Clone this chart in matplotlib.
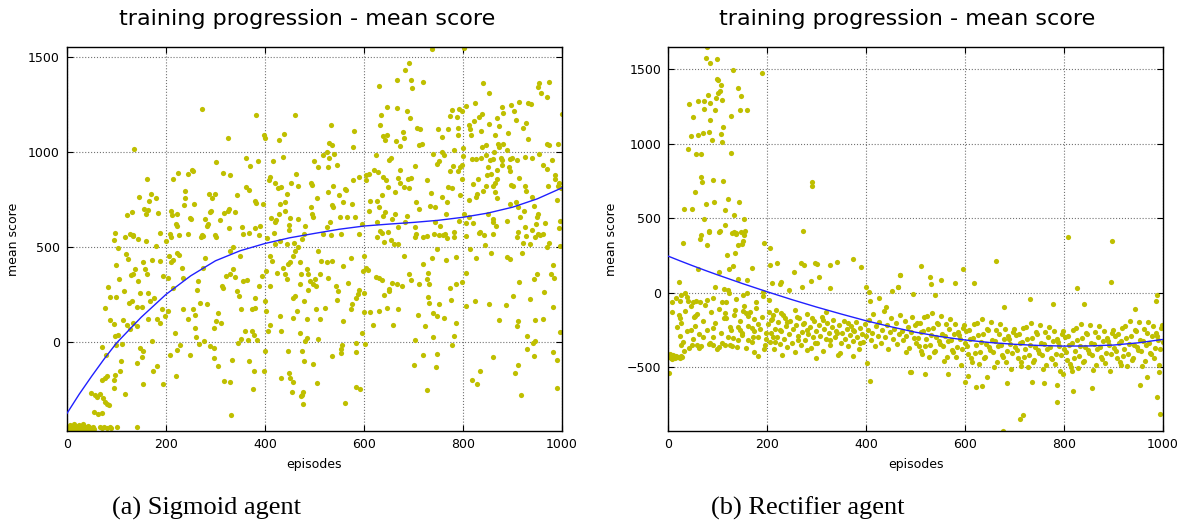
import matplotlib
matplotlib.use("Agg")
import matplotlib.pyplot as plt

# ---------------- data ----------------
sigmoid_points = [
    # bottom cluster, early episodes
    (2,-455),(5,-445),(8,-460),(10,-450),(12,-440),(14,-458),(17,-447),(19,-462),(21,-452),(23,-443),
    (26,-457),(28,-448),(30,-463),(32,-441),(34,-452),(36,-459),(38,-446),(40,-455),(43,-462),(45,-444),
    (47,-452),(50,-460),(52,-448),(55,-456),(3,-462),(7,-436),(15,-430),(25,-436),(33,-432),(42,-438),
    (67,-448),(70,-450),(75,-448),(81,-449),(86,-448),(88,-451),(101,-448),(141,-448),
    # upper part, episodes 0-510
    (135,1016),(273,1228),(382,1196),(461,1196),(325,1074),(398,1090),(400,1074),(438,1095),(428,1063),(362,968),
    (386,952),(370,926),(301,947),(416,952),(436,973),(499,952),(507,921),(252,905),(254,899),(225,889),
    (245,884),(214,857),(162,862),(315,889),(329,878),(463,884),(408,852),(411,868),(420,836),(426,810),
    (432,815),(445,783),(453,836),(466,820),(492,836),(494,829),(505,762),(362,815),(367,804),(343,773),
    (287,783),(299,778),(239,794),(238,757),(146,767),(170,783),(179,762),(166,746),(156,704),(163,698),
    (160,677),(121,672),(131,688),(184,682),(210,693),(222,677),(213,672),(257,730),(236,720),(293,757),
    (291,693),(289,684),(317,682),(327,704),(326,693),(339,688),(380,746),(382,735),(396,730),(430,730),
    (440,741),(428,677),(440,693),(420,635),(423,645),(412,656),(466,651),(451,656),(493,714),(495,677),
    (497,661),(481,614),(448,619),(418,577),(390,614),(380,603),(368,577),(388,566),(353,608),(327,603),
    (309,645),(278,651),(285,624),(283,612),(248,656),(251,650),(220,624),(223,612),(244,571),(226,566),
    (208,571),(188,577),(127,571),(133,566),(134,560),(118,555),(97,577),(143,545),(273,566),(275,560),
    (271,555),(300,566),(302,555),(355,571),(404,550),(449,592),(479,571),
    # lower part, episodes 0-510
    (48,-268),(60,-289),(67,-273),(73,-295),(80,-326),(85,-330),(55,-365),(62,-377),(70,-374),(77,-312),
    (57,-277),(70,-198),(77,-189),(80,-180),(94,-198),(97,-171),(94,-242),(117,-273),(109,-100),(108,-153),
    (70,-26),(79,-65),(100,-12),(104,40),(97,32),(112,-9),(87,115),(94,97),(76,178),(82,291),
    (86,238),(100,238),(100,407),(104,496),(95,538),(106,332),(115,270),(114,115),(122,93),(127,70),
    (125,208),(131,217),(119,464),(123,437),(129,354),(134,358),(137,385),(144,323),(147,261),(142,185),
    (151,185),(134,102),(141,88),(147,-30),(153,-44),(151,-79),(141,-109),(154,-220),(181,-127),(174,-153),
    (193,-220),(220,-175),(208,-65),(222,-39),(228,-12),(248,-65),(171,9),(164,125),(168,217),(176,234),
    (181,125),(188,102),(192,173),(198,138),(158,385),(161,358),(154,420),(159,531),(180,508),(188,429),
    (193,349),(172,432),(164,261),(201,534),(210,552),(207,455),(211,420),(215,432),(222,472),(227,460),
    (232,393),(234,340),(205,340),(215,287),(205,164),(218,49),(234,173),(245,120),(255,176),(259,146),
    (262,273),(265,323),(269,208),(275,393),(279,446),(282,199),(259,76),(261,26),(267,-9),(277,5),
    (289,-21),(297,-28),(297,-83),(306,-127),(317,-206),(329,-210),(333,-92),(331,-383),(296,76),(301,111),
    (306,155),(311,102),(313,296),(316,284),(321,349),(329,358),(336,385),(339,344),(344,270),(348,243),
    (351,173),(356,323),(363,326),(350,455),(329,481),(336,499),(346,-4),(351,19),(360,62),(373,58),
    (378,40),(383,14),(366,14),(368,-97),(376,-247),(378,-150),(397,-150),(400,-48),(407,58),(410,93),
    (401,217),(403,164),(410,296),(403,376),(414,429),(393,349),(387,296),(380,234),(373,173),(380,180),
    (424,367),(430,138),(432,62),(447,-48),(451,-189),(454,-259),(474,-277),(476,-326),(474,-48),(478,-97),
    (481,5),(484,23),(496,-114),(506,-215),(508,19),(457,129),(465,164),(471,49),(479,217),(484,120),
    (491,323),(497,305),(501,332),(484,385),(487,358),(444,332),(440,358),(447,411),(456,455),(461,481),
    (467,499),(471,420),(451,420),(437,393),(411,455),(420,517),(430,534),(444,517),(458,522),(474,543),
    (508,481),(461,243),(457,234),(473,358),(471,305),(504,176),(456,-210),(472,-282),(477,-259),(432,-189),
    (449,-162),(487,273),(503,296),
    # upper part, episodes 510-1000
    (738,1545),(802,1550),(691,1469),(683,1432),(694,1381),(696,1340),(666,1381),(720,1369),(631,1351),(841,1363),
    (853,1310),(954,1363),(951,1342),(974,1369),(969,1293),(958,1310),(533,1143),(580,1111),(577,1028),(529,1049),
    (536,1040),(525,1002),(530,972),(539,989),(517,984),(527,923),(546,931),(647,1240),(666,1231),(686,1217),
    (634,1194),(632,1143),(693,1178),(638,1085),(643,1063),(647,1090),(678,1107),(681,1076),(665,1058),(673,1032),
    (708,1130),(714,1120),(712,1037),(718,1045),(749,1122),(770,1125),(758,1081),(778,1225),(791,1228),(797,1219),
    (773,1190),(787,1187),(789,1130),(790,1090),(806,1243),(824,1257),(812,1143),(814,1125),(822,1164),(833,1187),
    (839,1204),(836,1111),(853,1148),(868,1183),(879,1240),(880,1208),(897,1249),(914,1266),(902,1217),(907,1172),
    (932,1257),(937,1252),(928,1156),(922,1127),(932,1072),(970,1045),(974,1040),(991,1042),(999,1201),(873,1138),
    (890,1103),(865,1093),(816,1093),(839,1028),(847,1037),(871,1045),(873,1028),(880,1042),(863,1002),(888,1011),
    (799,1022),(799,978),(781,1011),(757,1002),(740,993),(762,985),(752,954),(748,940),(780,926),(793,923),
    (797,933),(789,899),(773,899),(818,966),(826,963),(836,970),(846,984),(855,961),(860,966),(877,972),
    (879,961),(895,966),(899,972),(925,975),(940,972),(954,993),(962,931),(969,913),(979,958),(986,878),
    (985,857),(972,822),(991,820),(994,836),(998,810),(910,961),(892,923),(894,899),(878,934),(869,905),
    (851,923),(849,878),(856,884),(868,860),(865,841),(861,822),(846,822),(831,857),(821,831),(826,767),
    (828,778),(812,749),(841,796),(865,790),(869,762),(897,826),(901,820),(913,864),(925,822),(928,796),
    (940,765),(895,728),(907,741),(912,712),(924,693),(943,717),(949,659),(952,677),(966,626),(989,749),
    (995,637),(993,603),(535,720),(538,712),(538,825),(550,776),(557,741),(562,808),(563,800),(575,728),
    (577,855),(589,869),(566,657),(582,657),(590,570),(595,623),(551,657),(531,631),(525,605),(517,570),
    (533,564),(553,570),(527,790),(605,878),(611,886),(621,905),(624,984),(605,852),(613,746),(611,689),
    (629,896),(626,746),(630,712),(639,869),(644,852),(649,816),(636,773),(643,684),(650,958),(654,970),
    (663,790),(668,864),(673,905),(673,836),(680,816),(688,860),(694,864),(690,810),(703,926),(705,737),
    (711,702),(686,667),(656,649),(663,675),(639,667),(626,631),(632,587),(649,578),(669,605),(683,631),
    (703,605),(705,570),(727,557),(743,631),(753,614),(765,675),(727,855),(735,784),(733,716),(743,714),
    (758,767),(767,737),(769,816),(777,811),(797,860),(794,776),(791,640),(801,675),(806,626),(812,657),
    (821,626),(834,578),(850,675),(861,649),(860,631),(867,614),(888,640),(915,657),(925,605),(912,578),
    (939,590),(948,623),(952,570),(781,578),(763,570),(752,564),(807,557),(861,570),
    # lower part, episodes 510-1000
    (626,552),(661,517),(668,517),(637,575),(640,528),(654,540),(703,552),(720,552),(741,570),(760,566),
    (767,549),(782,556),(833,573),(843,566),(844,513),(814,490),(826,446),(857,472),(888,449),(894,437),
    (910,552),(921,525),(928,560),(935,517),(945,552),(955,566),(962,572),(969,502),(974,520),(996,508),
    (920,470),(982,405),(949,361),(977,358),(983,338),(964,266),(943,332),(935,229),(913,319),(900,243),
    (886,196),(873,115),(911,111),(910,85),(946,115),(961,120),(981,185),(995,55),(853,199),(825,217),
    (807,190),(797,319),(786,305),(774,287),(775,220),(785,102),(781,35),(777,-12),(807,367),(786,449),
    (766,432),(748,490),(737,446),(720,411),(730,367),(728,332),(732,305),(711,305),(690,361),(681,455),
    (667,305),(657,314),(651,270),(641,247),(630,164),(619,93),(636,326),(631,340),(624,345),(605,393),
    (608,381),(601,455),(598,375),(599,261),(588,252),(589,273),(583,234),(576,203),(573,176),(601,159),
    (595,49),(602,-7),(583,-4),(584,-53),(584,-233),(592,-245),(562,-321),(556,-12),(553,-35),(554,-58),
    (536,-70),(558,111),(548,270),(545,220),(544,296),(568,314),(573,446),(558,402),(535,429),(525,420),
    (528,340),(513,429),(511,358),(521,178),(511,120),(613,159),(646,182),(651,279),(659,93),(669,173),
    (676,296),(695,326),(703,14),(700,-122),(710,146),(723,85),(720,-65),(727,-249),(739,26),(747,-62),
    (746,-131),(730,238),(732,208),(740,155),(747,138),(752,199),(762,129),(818,-198),(829,-220),(834,-153),
    (860,-79),(912,-118),(906,-159),(917,-277),(930,35),(929,-35),(941,-4),(944,-70),(945,5),(982,-53),
    (989,-92),(989,-242),
]

rectifier_points = [
    # early high-score burst
    (79,1647),(76,1573),(98,1568),(85,1539),(131,1494),(190,1476),(98,1434),(100,1425),(106,1396),(105,1356),
    (100,1338),(96,1305),(108,1293),(80,1327),(61,1287),(73,1287),(85,1271),(43,1266),(73,1235),(95,1224),
    (50,1181),(85,1159),(127,1186),(145,1224),(159,1228),(141,1374),(147,1320),(112,1114),(82,1079),(71,1070),
    (60,1059),(46,1052),(89,1025),(106,1067),(109,1009),(41,964),(56,929),(67,929),(127,940),(67,774),
    (69,745),(90,756),(112,752),(54,676),(290,745),(290,718),(121,627),(144,611),(92,611),(77,595),
    (32,564),(48,564),(115,553),(133,522),(72,495),(153,495),(115,457),(82,414),(102,407),(134,407),
    (137,398),(138,394),(155,414),(153,387),(67,387),(272,414),
    # middle scores, early episodes
    (31,336),(64,358),(78,320),(119,253),(135,264),(142,320),(149,325),(152,347),(193,336),(206,298),
    (22,74),(61,157),(103,141),(124,157),(132,179),(121,18),(113,23),(95,40),(123,-4),(142,90),
    (159,85),(170,164),(206,186),(221,197),(191,7),(203,-49),(209,67),(226,56),(229,72),(244,18),
    (255,141),(269,201),(275,183),(270,40),(288,81),(297,201),(301,195),(304,107),(327,186),(341,208),
    (327,30),(373,224),(389,170),(400,36),(405,7),(407,-54),(426,-33),(452,13),(469,119),(464,40),
    (494,-11),(83,410),(104,415),(130,402),(147,405),
    # cluster at start
    (1,-430),(3,-420),(5,-440),(7,-425),(9,-435),(11,-420),(13,-430),(15,-438),(17,-424),(19,-432),
    (21,-428),(24,-436),(27,-422),(29,-430),(2,-537),(4,-410),(8,-445),
    # band, episodes 0-500
    (7,-60),(9,-128),(24,-172),(19,-228),(24,-291),(27,-351),(32,-389),(48,-351),(59,-351),(62,-374),
    (71,-299),(85,-336),(91,-351),(102,-367),(115,-351),(125,-351),(140,-362),(149,-284),(146,-250),(162,-318),
    (172,-295),(169,-239),(182,-210),(174,-179),(174,-396),(182,-425),(195,-351),(198,-313),(207,-183),(204,-128),
    (213,-150),(219,-116),(228,-134),(236,-168),(213,-295),(216,-329),(231,-418),(226,-250),(240,-195),(257,-116),
    (260,-165),(263,-318),(273,-212),(280,-250),(281,-385),(299,-440),(296,-340),(290,-172),(314,-183),(320,-128),
    (327,-318),(341,-272),(347,-407),(364,-206),(374,-250),(388,-340),(401,-474),(408,-593),(374,-425),(441,-94),
    (481,-396),(489,-530),
    (16,-38),(24,-55),(27,-15),(34,-4),(38,-27),(40,-56),(51,-60),(57,-54),(64,-60),(55,-156),
    (52,-165),(47,-250),(78,-49),(91,-38),(90,-239),(108,-60),(115,-138),(118,-172),(128,-250),(132,-306),
    (142,-228),(135,-116),(151,-15),(159,-4),(152,-125),(157,-134),(162,-156),(178,-60),(191,-20),
    (22,-150),(26,-200),(30,-330),(34,-120),(38,-260),(42,-370),(46,-90),(50,-310),(54,-220),(58,-140),
    (62,-280),(66,-360),(70,-190),(74,-80),(78,-250),(82,-345),(86,-130),(90,-300),(94,-200),(98,-380),
    (102,-110),(106,-270),(110,-340),(114,-170),(118,-60),(122,-300),(126,-230),(130,-355),(134,-150),(138,-40),
    (142,-320),(146,-190),(150,-270),(154,-90),(158,-370),(162,-220),(166,-130),(170,-330),(174,-260),(178,-100),
    (182,-300),(186,-240),(190,-160),(194,-380),(198,-270),
    (202,-210),(205,-330),(208,-270),(211,-175),(214,-380),(217,-240),(220,-300),(223,-195),(226,-345),(229,-260),
    (232,-150),(235,-310),(238,-225),(241,-365),(244,-280),(247,-190),(250,-335),(253,-245),(256,-400),(259,-215),
    (262,-290),(265,-170),(268,-350),(271,-265),(274,-205),(277,-320),(280,-145),(283,-275),(286,-230),(289,-370),
    (292,-300),(295,-190),(298,-255),(301,-335),(304,-215),(307,-290),(310,-160),(313,-390),(316,-245),(319,-310),
    (322,-200),(325,-270),(328,-350),(331,-230),(334,-180),(337,-300),(340,-255),(343,-420),(346,-215),(349,-335),
    (352,-270),(355,-190),(358,-310),(361,-240),(364,-360),(367,-285),(370,-220),(373,-325),(376,-260),(379,-195),
    (382,-300),(385,-380),(388,-235),(391,-275),(394,-330),(397,-210),(400,-290),
    (403,-250),(406,-180),(409,-320),(412,-270),(415,-140),(418,-360),(421,-225),(424,-290),(427,-195),(430,-335),
    (433,-250),(436,-120),(439,-300),(442,-215),(445,-380),(448,-265),(451,-170),(454,-310),(457,-240),(460,-200),
    (463,-345),(466,-280),(469,-150),(472,-255),(475,-320),(478,-190),(481,-290),(484,-230),(487,-370),(490,-265),
    (493,-160),(496,-305),(499,-215),(500,-340),
    # band, episodes 500-1000
    (502,-206),(506,-358),(510,-261),(514,-413),(518,-166),(522,-308),(526,-240),(530,-352),(534,-135),(538,-397),
    (542,-299),(546,-212),(550,-344),(554,-276),(558,-458),(562,-210),(566,-322),(570,-174),(574,-386),(578,-278),
    (582,-430),(586,-262),(590,-313),(594,-375),(598,-216),(602,-258),(606,-409),(610,-310),(614,-462),(618,-213),
    (622,-354),(626,-286),(630,-397),(634,-178),(638,-440),(642,-341),(646,-252),(650,-384),(654,-315),(658,-496),
    (662,-247),(666,-358),(670,-209),(674,-420),(678,-311),(682,-462),(686,-293),(690,-344),(694,-405),(698,-246),
    (702,-286),(706,-437),(710,-338),(714,-489),(718,-239),(722,-380),(726,-311),(730,-421),(734,-202),(738,-463),
    (742,-363),(746,-274),(750,-404),(754,-335),(758,-515),(762,-266),(766,-376),(770,-227),(774,-437),(778,-327),
    (782,-478),(786,-308),(790,-358),(794,-418),(798,-258),(802,-298),(806,-448),(810,-348),(814,-498),(818,-248),
    (822,-388),(826,-318),(830,-427),(834,-207),(838,-467),(842,-367),(846,-277),(850,-407),(854,-337),(858,-516),
    (862,-266),(866,-375),(870,-225),(874,-434),(878,-324),(882,-473),(886,-303),(890,-352),(894,-412),(898,-251),
    (902,-291),(906,-440),(910,-339),(914,-488),(918,-237),(922,-376),(926,-305),(930,-414),(934,-192),(938,-451),
    (942,-349),(946,-258),(950,-386),(954,-314),(958,-493),(962,-241),(966,-349),(970,-197),(974,-405),(978,-293),
    (982,-441),(986,-269),(990,-317),(994,-376),(998,-214),
    (504,-307),(508,-200),(512,-392),(516,-255),(520,-357),(524,-159),(528,-431),(532,-284),(536,-236),(540,-388),
    (544,-201),(548,-323),(552,-155),(556,-357),(560,-289),(564,-431),(568,-243),(572,-315),(576,-397),(580,-209),
    (584,-361),(588,-282),(592,-484),(596,-235),(600,-337),(604,-358),(608,-250),(612,-441),(616,-302),(620,-404),
    (624,-205),(628,-476),(632,-328),(636,-279),(640,-430),(644,-242),(648,-363),(652,-194),(656,-395),(660,-326),
    (664,-467),(668,-278),(672,-349),(676,-430),(680,-241),(684,-392),(688,-313),(692,-514),(696,-265),(700,-366),
    (704,-387),(708,-278),(712,-468),(716,-329),(720,-430),(724,-230),(728,-501),(732,-352),(736,-302),(740,-453),
    (744,-263),(748,-384),(752,-214),(756,-415),(760,-345),(764,-486),(768,-296),(772,-367),(776,-447),(780,-257),
    (784,-408),(788,-328),(792,-528),(796,-278),(800,-378),(804,-398),(808,-288),(812,-478),(816,-338),(820,-438),
    (824,-238),(828,-508),(832,-357),(836,-307),(840,-457),(844,-267),(848,-387),(852,-217),(856,-416),(860,-346),
    (864,-486),(868,-295),(872,-365),(876,-444),(880,-254),(884,-403),(888,-323),(892,-522),(896,-271),(900,-371),
    (904,-390),(908,-279),(912,-468),(916,-327),(920,-426),(924,-225),(928,-494),(932,-343),(936,-291),(940,-440),
    (944,-248),(948,-367),(952,-195),(956,-393),(960,-322),(964,-460),(968,-268),(972,-336),(976,-414),(980,-222),
    (984,-370),(988,-288),(992,-486),(996,-235),(1000,-333),
    # outliers, episodes 460-1000
    (808,372),(896,349),(894,74),(663,215),(512,181),(595,157),(469,119),(529,103),(531,56),(552,85),
    (580,67),(618,67),(465,36),(826,34),(539,-15),(987,-15),(985,-54),(731,-45),(778,-76),(679,-98),
    (840,-76),(943,-109),(987,-698),(994,-817),(710,-850),(718,-821),(676,-929),(786,-736),(818,-658),(856,-642),
    (954,-620),(622,-631),(634,-626),(605,-557),(600,-597),(644,-564),(490,-530),(519,-546),(566,-546),(685,-604),
    (735,-597),(759,-604),(785,-620),(797,-546),(817,-524),(967,-564),(991,-530),
]

# fitted trend lines
trend_episodes = [0, 25, 50, 75, 100, 150, 200, 250, 300, 350, 400, 450, 500,
                  550, 600, 650, 700, 750, 800, 850, 900, 950, 1000]
sigmoid_trend = [-374, -272, -178, -88, -4, 132, 252, 350, 429, 482, 520, 550, 573,
                 595, 612, 622, 631, 642, 658, 680, 711, 755, 813]
rectifier_trend = [246, 213, 181, 150, 120, 62, 7, -46, -96, -143, -188, -228, -265,
                   -294, -317, -334, -346, -354, -358, -357, -351, -336, -313]

panel_titles = ["training progression - mean score", "training progression - mean score"]
panel_captions = ["(a) Sigmoid agent", "(b) Rectifier agent"]
x_ticks = [0, 200, 400, 600, 800, 1000]
sigmoid_yticks = [0, 500, 1000, 1500]
rectifier_yticks = [-500, 0, 500, 1000, 1500]
sigmoid_ylim = (-467, 1554)
rectifier_ylim = (-928, 1649)

# ---------------- drawing ----------------
plt.rcParams['font.family'] = ['DejaVu Sans']

fig = plt.figure(figsize=(11.94, 5.25), dpi=100)
fig.patch.set_facecolor('white')

dot_color = '#bfbf00'
line_color = '#2020ff'

panels = [
    (0.0561, sigmoid_points, sigmoid_trend, sigmoid_ylim, sigmoid_yticks),
    (0.5595, rectifier_points, rectifier_trend, rectifier_ylim, rectifier_yticks),
]
caption_x = [0.0938, 0.5955]
title_x = [0.257, 0.760]

for i, (left, pts, trend, ylim, yticks) in enumerate(panels):
    ax = fig.add_axes([left, 0.179, 0.4146, 0.7314])
    xs = [p[0] for p in pts]
    ys = [p[1] for p in pts]
    ax.scatter(xs, ys, s=14, color=dot_color, linewidths=0, zorder=2)
    ax.plot(trend_episodes, trend, color=line_color, lw=1.0, zorder=3)
    ax.set_xlim(0, 1000)
    ax.set_ylim(*ylim)
    ax.set_xticks(x_ticks)
    ax.set_yticks(yticks)
    ax.grid(True, color='0.45', linestyle=':', linewidth=0.8, zorder=0)
    ax.set_axisbelow(True)
    ax.tick_params(direction='in', top=True, right=True, length=4, width=0.8,
                   labelsize=9, pad=5, colors='black')
    for sp in ax.spines.values():
        sp.set_linewidth(1.0)
        sp.set_color('black')
    ax.set_xlabel("episodes", fontsize=9, labelpad=5)
    ax.set_ylabel("mean score", fontsize=9, labelpad=6)
    fig.text(title_x[i], 0.964, panel_titles[i], ha='center', va='center', fontsize=16)
    fig.text(caption_x[i], 0.032, panel_captions[i], ha='left', va='center',
             fontsize=19, family=['Liberation Serif', 'DejaVu Serif'])

fig.savefig("out.png", dpi=100, facecolor='white')
